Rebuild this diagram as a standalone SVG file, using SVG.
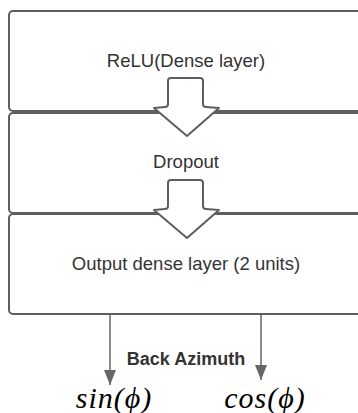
<svg xmlns="http://www.w3.org/2000/svg" width="358" height="413" viewBox="0 0 358 413">
  <style>
    .box { fill: #ffffff; stroke: #5e5e5e; stroke-width: 2; }
    .block { fill: #ffffff; stroke: #5e5e5e; stroke-width: 2; stroke-linejoin: round; }
    .label { font-family: "Liberation Sans", Arial, sans-serif; font-size: 18.5px; fill: #333333; text-anchor: middle; }
    .title { font-family: "Liberation Sans", Arial, sans-serif; font-size: 18px; font-weight: bold; fill: #333333; text-anchor: middle; }
    .math { font-family: "Liberation Serif", "DejaVu Serif", serif; font-style: italic; font-size: 30px; letter-spacing: 1px; fill: #000000; text-anchor: middle; }
    .wire { stroke: #666666; stroke-width: 1.5; fill: none; }
  </style>
  <defs>
    <!-- arrowhead drawn along +x so orient="auto" points it down the wire -->
    <marker id="head" viewBox="0 0 15 12" refX="15" refY="6" markerWidth="15" markerHeight="12" markerUnits="userSpaceOnUse" orient="auto">
      <path d="M0,0 L15,6 L0,12 Z" fill="#666666"/>
    </marker>
    <path id="blockArrow" d="M168,81 Q168,78 171,78 L200,78 Q203,78 203,81 L203,104 Q203,107 206,107 L219,108 L187,136 L154,108 L165,107 Q168,107 168,104 Z"/>
  </defs>

  <g id="node-relu">
    <rect class="box" x="9" y="11" width="370" height="100" rx="4"/>
    <text class="label" x="186" y="67">ReLU(Dense layer)</text>
  </g>

  <g id="node-dropout">
    <rect class="box" x="9" y="113" width="370" height="100" rx="4"/>
    <text class="label" x="186" y="168">Dropout</text>
  </g>

  <g id="node-output">
    <rect class="box" x="9" y="214" width="370" height="100" rx="4"/>
    <text class="label" x="186" y="270">Output dense layer (2 units)</text>
  </g>

  <g id="connectors">
    <use href="#blockArrow" class="block"/>
    <use href="#blockArrow" class="block" transform="translate(0,102)"/>
    <line class="wire" x1="110" y1="315" x2="110" y2="385" marker-end="url(#head)"/>
    <line class="wire" x1="261" y1="315" x2="261" y2="380" marker-end="url(#head)"/>
  </g>

  <g id="outputs">
    <text class="title" x="186" y="365">Back Azimuth</text>
    <text class="math" x="114" y="408">sin(ϕ)</text>
    <text class="math" x="265" y="408">cos(ϕ)</text>
  </g>
</svg>
